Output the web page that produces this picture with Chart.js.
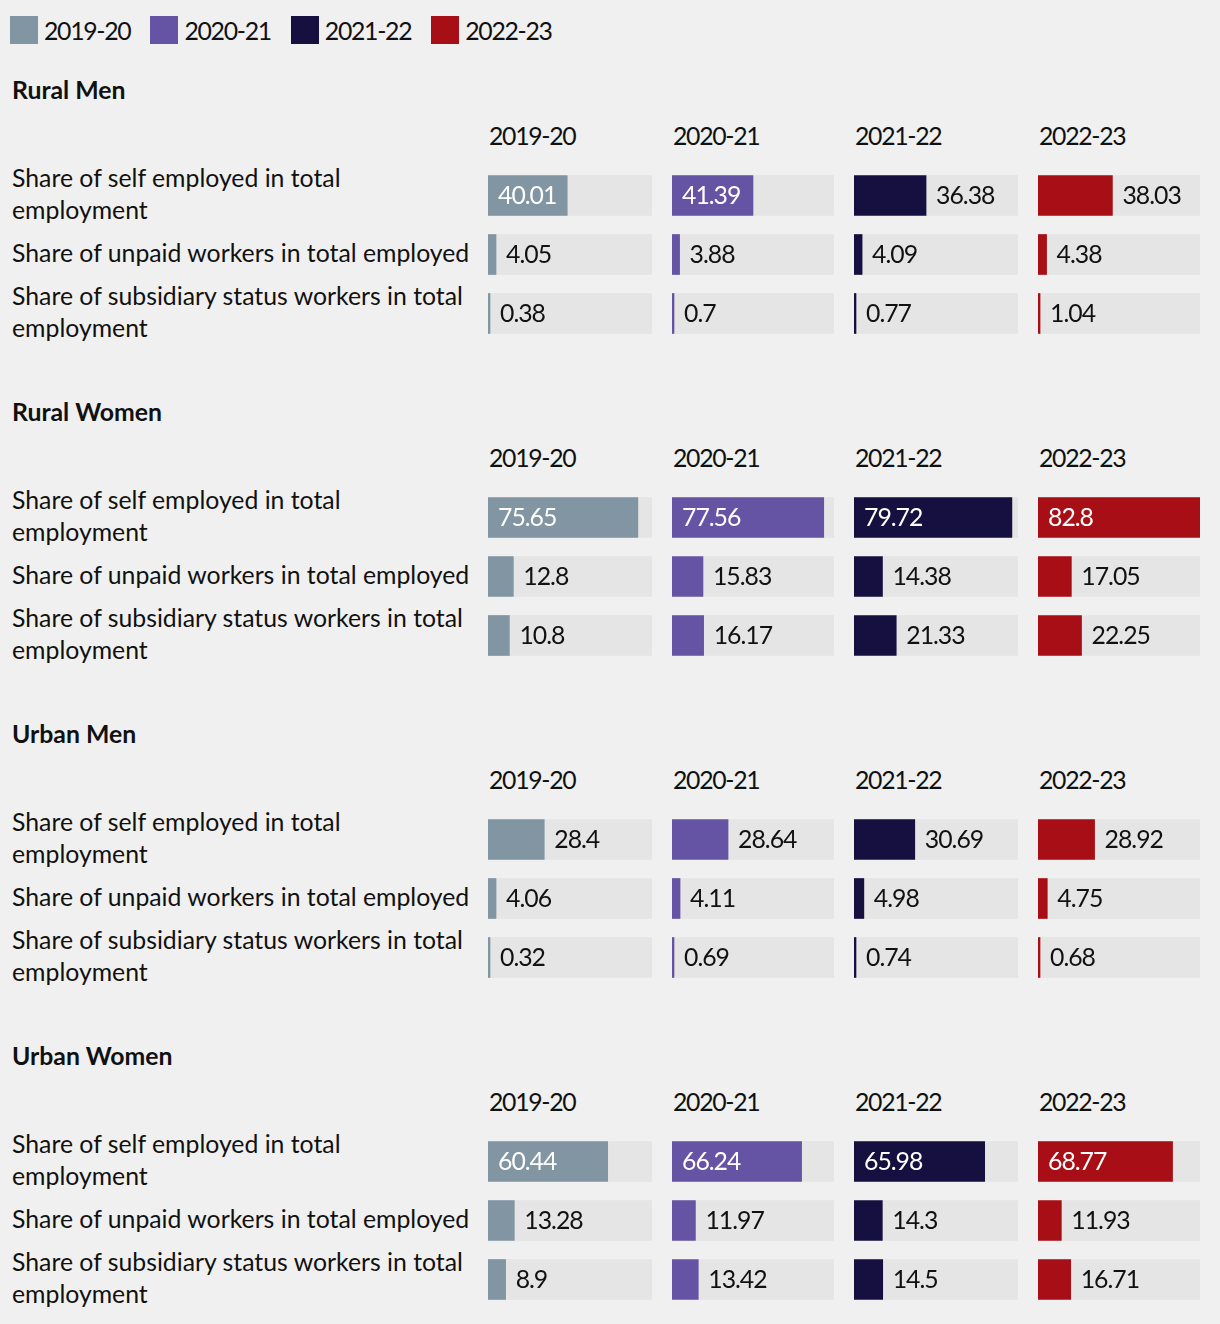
<!DOCTYPE html>
<html>
<head>
<meta charset="utf-8">
<script src="https://cdn.jsdelivr.net/npm/chart.js@4.4.1/dist/chart.umd.min.js"></script>
<style>
  html, body { margin: 0; padding: 0; background: #f0f0f0; }
  body { width: 1220px; height: 1324px; position: relative; overflow: hidden; font-family: 'Lato', sans-serif; color: #111; }
  .abs { position: absolute; white-space: nowrap; }
  .num { letter-spacing: -1.3px; }
  .legend { position: absolute; left: 10px; top: 14px; display: flex; align-items: center; }
  .legend .item { display: flex; align-items: center; margin-right: 20px; height: 32px; }
  .legend .sw { width: 28px; height: 28px; margin-right: 6px; }
  .title { font-weight: 700; }
  canvas { position: absolute; }
</style>
</head>
<body>
<script>
// ---------- data ----------
const years = ['2019-20', '2020-21', '2021-22', '2022-23'];
const yearColors = ['#8195a2', '#6553a3', '#15103f', '#a80e15'];
const groups = ['Rural Men', 'Rural Women', 'Urban Men', 'Urban Women'];
const indicators = [
  ['Share of self employed in total', 'employment'],
  ['Share of unpaid workers in total employed'],
  ['Share of subsidiary status workers in total', 'employment']
];
// each list: per year -> [self employed, unpaid, subsidiary]
const ruralMen   = [[40.01, 4.05, 0.38], [41.39, 3.88, 0.7],  [36.38, 4.09, 0.77], [38.03, 4.38, 1.04]];
const ruralWomen = [[75.65, 12.8, 10.8], [77.56, 15.83, 16.17], [79.72, 14.38, 21.33], [82.8, 17.05, 22.25]];
const urbanMen   = [[28.4, 4.06, 0.32],  [28.64, 4.11, 0.69], [30.69, 4.98, 0.74], [28.92, 4.75, 0.68]];
const urbanWomen = [[60.44, 13.28, 8.9], [66.24, 11.97, 13.42], [65.98, 14.3, 14.5], [68.77, 11.93, 16.71]];
const groupValues = [ruralMen, ruralWomen, urbanMen, urbanWomen];
const axisMax = 82.8;

// ---------- layout ----------
const SECTION_STEP = 322;
const TITLE_CY = 90, HEADER_CY = 136, AREA_TOP = 166, AREA_H = 177;
const COL_LEFT = [488, 672, 854, 1038];
const COL_W = [164, 162, 164, 162];
const LINE_H = 32;
const INSIDE_MIN_PX = 78;

// fit font size so that the long label matches reference width
const mctx = document.createElement('canvas').getContext('2d');
mctx.font = '100px Lato';
const FS = Math.round(100 * 458 / mctx.measureText('Share of unpaid workers in total employed').width * 10) / 10;
document.body.style.fontSize = FS + 'px';

function div(cls, text, style) {
  const d = document.createElement('div');
  d.className = cls;
  if (text !== null) d.textContent = text;
  Object.assign(d.style, style);
  document.body.appendChild(d);
  return d;
}

// legend
const lg = div('legend', null, {});
years.forEach((y, i) => {
  const it = document.createElement('div'); it.className = 'item';
  const sw = document.createElement('div'); sw.className = 'sw'; sw.style.background = yearColors[i];
  const tx = document.createElement('span'); tx.className = 'num'; tx.textContent = y;
  it.appendChild(sw); it.appendChild(tx); lg.appendChild(it);
});

const valueLabels = {
  id: 'valueLabels',
  afterDatasetsDraw(chart) {
    const ctx = chart.ctx;
    const meta = chart.getDatasetMeta(0);
    const ds = chart.data.datasets[0];
    ctx.save();
    ctx.font = FS + 'px Lato';
    if ('letterSpacing' in ctx) ctx.letterSpacing = '-1px';
    ctx.textBaseline = 'middle';
    ctx.textAlign = 'left';
    meta.data.forEach((el, i) => {
      const txt = String(ds.data[i]);
      const barW = el.x - el.base;
      if (barW >= INSIDE_MIN_PX) {
        ctx.fillStyle = '#ffffff';
        ctx.fillText(txt, el.base + 10, el.y + 1);
      } else {
        ctx.fillStyle = '#111111';
        ctx.fillText(txt, el.x + 10, el.y + 1);
      }
    });
    ctx.restore();
  }
};

groups.forEach((g, gi) => {
  const S = SECTION_STEP * gi;
  div('abs title', g, { left: '12px', top: (S + TITLE_CY - LINE_H / 2) + 'px', lineHeight: LINE_H + 'px' });
  const rowStep = AREA_H / indicators.length;
  indicators.forEach((lines, ri) => {
    const cy = S + AREA_TOP + rowStep * (ri + 0.5) - 2;
    const d = div('abs', null, { left: '12px', top: (cy - lines.length * LINE_H / 2) + 'px', lineHeight: LINE_H + 'px' });
    d.innerHTML = lines.map(l => l.replace(/&/g, '&amp;')).join('<br>');
  });
  years.forEach((y, yi) => {
    div('abs num', y, { left: (COL_LEFT[yi] + 1) + 'px', top: (S + HEADER_CY - LINE_H / 2) + 'px', lineHeight: LINE_H + 'px' });
    const cv = document.createElement('canvas');
    cv.width = COL_W[yi]; cv.height = AREA_H;
    cv.style.left = COL_LEFT[yi] + 'px';
    cv.style.top = (S + AREA_TOP) + 'px';
    cv.style.width = COL_W[yi] + 'px';
    cv.style.height = AREA_H + 'px';
    document.body.appendChild(cv);
    const vals = groupValues[gi][yi];
    new Chart(cv, {
      type: 'bar',
      data: {
        labels: indicators.map(l => l.join(' ')),
        datasets: [
          { data: vals, backgroundColor: yearColors[yi], grouped: false, order: 1, barThickness: 40, minBarLength: 2, borderWidth: 0 },
          { data: indicators.map(() => axisMax), backgroundColor: '#e5e5e5', grouped: false, order: 2, barThickness: 40, borderWidth: 0 }
        ]
      },
      options: {
        indexAxis: 'y',
        responsive: false,
        maintainAspectRatio: false,
        animation: false,
        devicePixelRatio: 1,
        layout: { padding: 0 },
        scales: {
          x: { type: 'linear', min: 0, max: axisMax, display: false },
          y: { type: 'category', display: false, offset: true }
        },
        plugins: { legend: { display: false }, tooltip: { enabled: false } }
      },
      plugins: [valueLabels]
    });
  });
});
</script>
</body>
</html>
